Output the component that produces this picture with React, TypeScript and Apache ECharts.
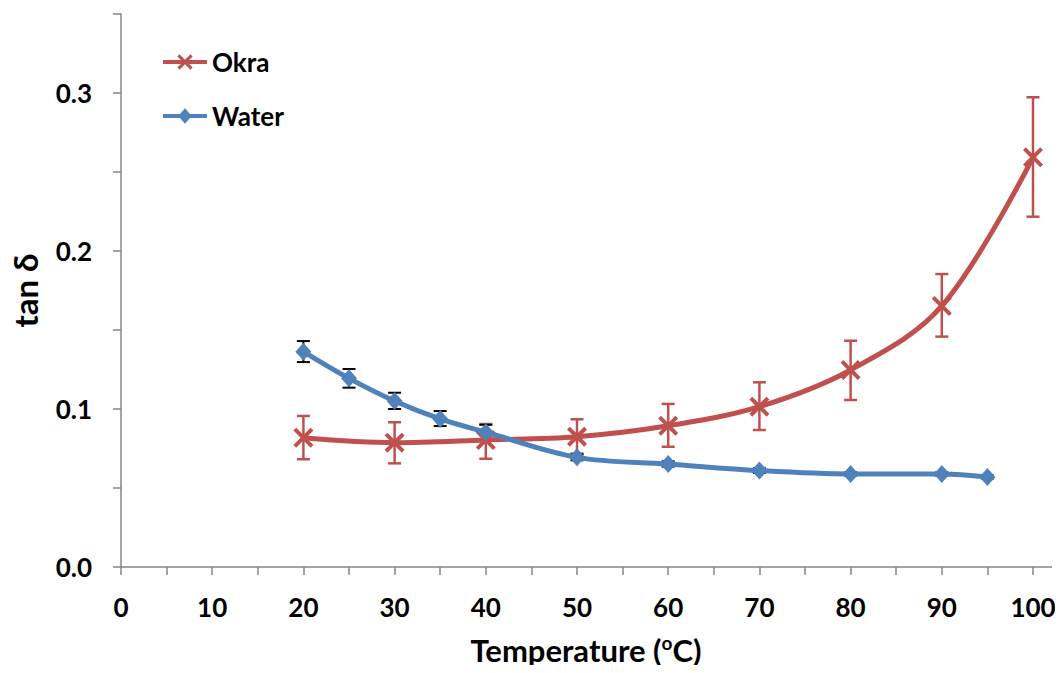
import React, { useEffect, useRef } from "react";
import * as echarts from "echarts";

const okraTemp = [20, 30, 40, 50, 60, 70, 80, 90, 100];
const okraTan = [0.0818, 0.0787, 0.0804, 0.0825, 0.0894, 0.1015, 0.1247, 0.1652, 0.2593];
const okraLow = [0.0682, 0.0656, 0.0685, 0.0718, 0.0761, 0.0867, 0.1057, 0.1458, 0.2217];
const okraHigh = [0.0956, 0.0916, 0.0905, 0.0935, 0.1032, 0.1169, 0.1432, 0.1854, 0.2973];

const waterTemp = [20, 25, 30, 35, 40, 50, 60, 70, 80, 90, 95];
const waterTan = [0.1363, 0.1194, 0.1051, 0.0937, 0.0853, 0.0694, 0.0652, 0.061, 0.0589, 0.0589, 0.057];
const waterLow = [0.1297, 0.1135, 0.1, 0.0892, 0.081, 0.0675, 0.0635, 0.0595, 0.0578, 0.0578, 0.056];
const waterHigh = [0.143, 0.1253, 0.1103, 0.0987, 0.09, 0.0713, 0.0669, 0.0625, 0.06, 0.06, 0.058];

const RED = "#C0504D";
const BLUE = "#4F81BD";
const AXIS = "#868686";
const FONT = "Lato, 'Open Sans', sans-serif";

const xPath = "path://M0,1.4L1.4,0L5,3.6L8.6,0L10,1.4L6.4,5L10,8.6L8.6,10L5,6.4L1.4,10L0,8.6L3.6,5Z";
const okraIcon =
  "path://M0,5.8L46,5.8L46,10.2L0,10.2Z M15,2.24L17.24,0L23,5.76L28.76,0L31,2.24L25.24,8L31,13.76L28.76,16L23,10.24L17.24,16L15,13.76L20.76,8Z";
const waterIcon = "path://M0,5.8L46,5.8L46,10.2L0,10.2Z M23,0L30,8L23,16L16,8Z";

function errorSeries(name: string, xs: number[], lo: number[], hi: number[], color: string, width: number) {
  return {
    type: "custom",
    name: name,
    silent: true,
    z: 1,
    data: xs.map((x, i) => [x, lo[i], hi[i]]),
    renderItem: (params: any, api: any) => {
      const x = api.value(0);
      const p1 = api.coord([x, api.value(1)]);
      const p2 = api.coord([x, api.value(2)]);
      const hw = 6.5;
      const style = { stroke: color, lineWidth: width };
      return {
        type: "group",
        children: [
          { type: "line", shape: { x1: p1[0], y1: p1[1], x2: p2[0], y2: p2[1] }, style },
          { type: "line", shape: { x1: p1[0] - hw, y1: p1[1], x2: p1[0] + hw, y2: p1[1] }, style },
          { type: "line", shape: { x1: p2[0] - hw, y1: p2[1], x2: p2[0] + hw, y2: p2[1] }, style },
        ],
      };
    },
  };
}

export default function App() {
  const ref = useRef<HTMLDivElement>(null);
  useEffect(() => {
    const chart = echarts.init(ref.current!, undefined, { renderer: "svg" });
    chart.setOption({
      animation: false,
      backgroundColor: "#ffffff",
      textStyle: { fontFamily: FONT },
      grid: { left: 120, right: 30, top: 14, bottom: 106 },
      legend: {
        orient: "vertical",
        left: 158,
        top: 44,
        itemGap: 28,
        itemWidth: 44,
        itemHeight: 16,
        data: [
          { name: "Okra", icon: okraIcon, itemStyle: { color: RED } },
          { name: "Water", icon: waterIcon, itemStyle: { color: BLUE } },
        ],
        textStyle: { fontFamily: FONT, fontWeight: "bold", fontSize: 26, color: "#000" },
      },
      xAxis: {
        type: "value",
        min: 0,
        max: 100,
        interval: 5,
        name: "{a|Temperature (}{s|o}{a|C)}",
        nameLocation: "middle",
        nameGap: 66,
        nameTextStyle: {
          fontFamily: FONT,
          fontWeight: "bold",
          fontSize: 31,
          color: "#000",
          padding: [0, 0, 0, 18],
          rich: {
            a: { fontFamily: FONT, fontWeight: "bold", fontSize: 31, color: "#000", lineHeight: 34 },
            s: { fontFamily: FONT, fontWeight: "bold", fontSize: 19, color: "#000", lineHeight: 19, verticalAlign: "top" },
          },
        },
        axisLine: { lineStyle: { color: AXIS, width: 1.5 } },
        axisTick: { length: 8, lineStyle: { color: AXIS, width: 1.5 } },
        splitLine: { show: false },
        axisLabel: {
          margin: 27,
          fontFamily: FONT,
          fontWeight: "bold",
          fontSize: 26,
          color: "#000",
          formatter: (v: number) => (v % 10 === 0 ? String(v) : ""),
        },
      },
      yAxis: {
        type: "value",
        min: 0,
        max: 0.35,
        interval: 0.05,
        name: "tan δ",
        nameLocation: "middle",
        nameGap: 80,
        nameRotate: 90,
        nameTextStyle: { fontFamily: FONT, fontWeight: "bold", fontSize: 33, color: "#000" },
        axisLine: { show: true, lineStyle: { color: AXIS, width: 1.5 } },
        axisTick: { show: true, length: 8, lineStyle: { color: AXIS, width: 1.5 } },
        splitLine: { show: false },
        axisLabel: {
          margin: 29,
          fontFamily: FONT,
          fontWeight: "bold",
          fontSize: 26,
          color: "#000",
          formatter: (v: number) => {
            const t = v * 10;
            return Math.abs(t - Math.round(t)) < 1e-6 ? v.toFixed(1) : "";
          },
        },
      },
      graphic: [
        {
          type: "line",
          shape: { x1: 1033, y1: 567, x2: 1052, y2: 567 },
          style: { stroke: AXIS, lineWidth: 1.5 },
        },
      ],
      series: [
        errorSeries("okraErr", okraTemp, okraLow, okraHigh, RED, 2.5),
        errorSeries("waterErr", waterTemp, waterLow, waterHigh, "#000", 2),
        {
          type: "line",
          name: "Okra",
          z: 3,
          smooth: 0.35,
          data: okraTemp.map((x, i) => [x, okraTan[i]]),
          symbol: xPath,
          symbolSize: 20,
          lineStyle: { color: RED, width: 5 },
          itemStyle: { color: RED },
        },
        {
          type: "line",
          name: "Water",
          z: 4,
          smooth: 0.35,
          data: waterTemp.map((x, i) => [x, waterTan[i]]),
          symbol: "diamond",
          symbolSize: [16, 18],
          lineStyle: { color: BLUE, width: 5 },
          itemStyle: { color: BLUE },
        },
      ],
    });
    return () => chart.dispose();
  }, []);
  return <div ref={ref} style={{ width: 1063, height: 673, margin: -8 }} />;
}
